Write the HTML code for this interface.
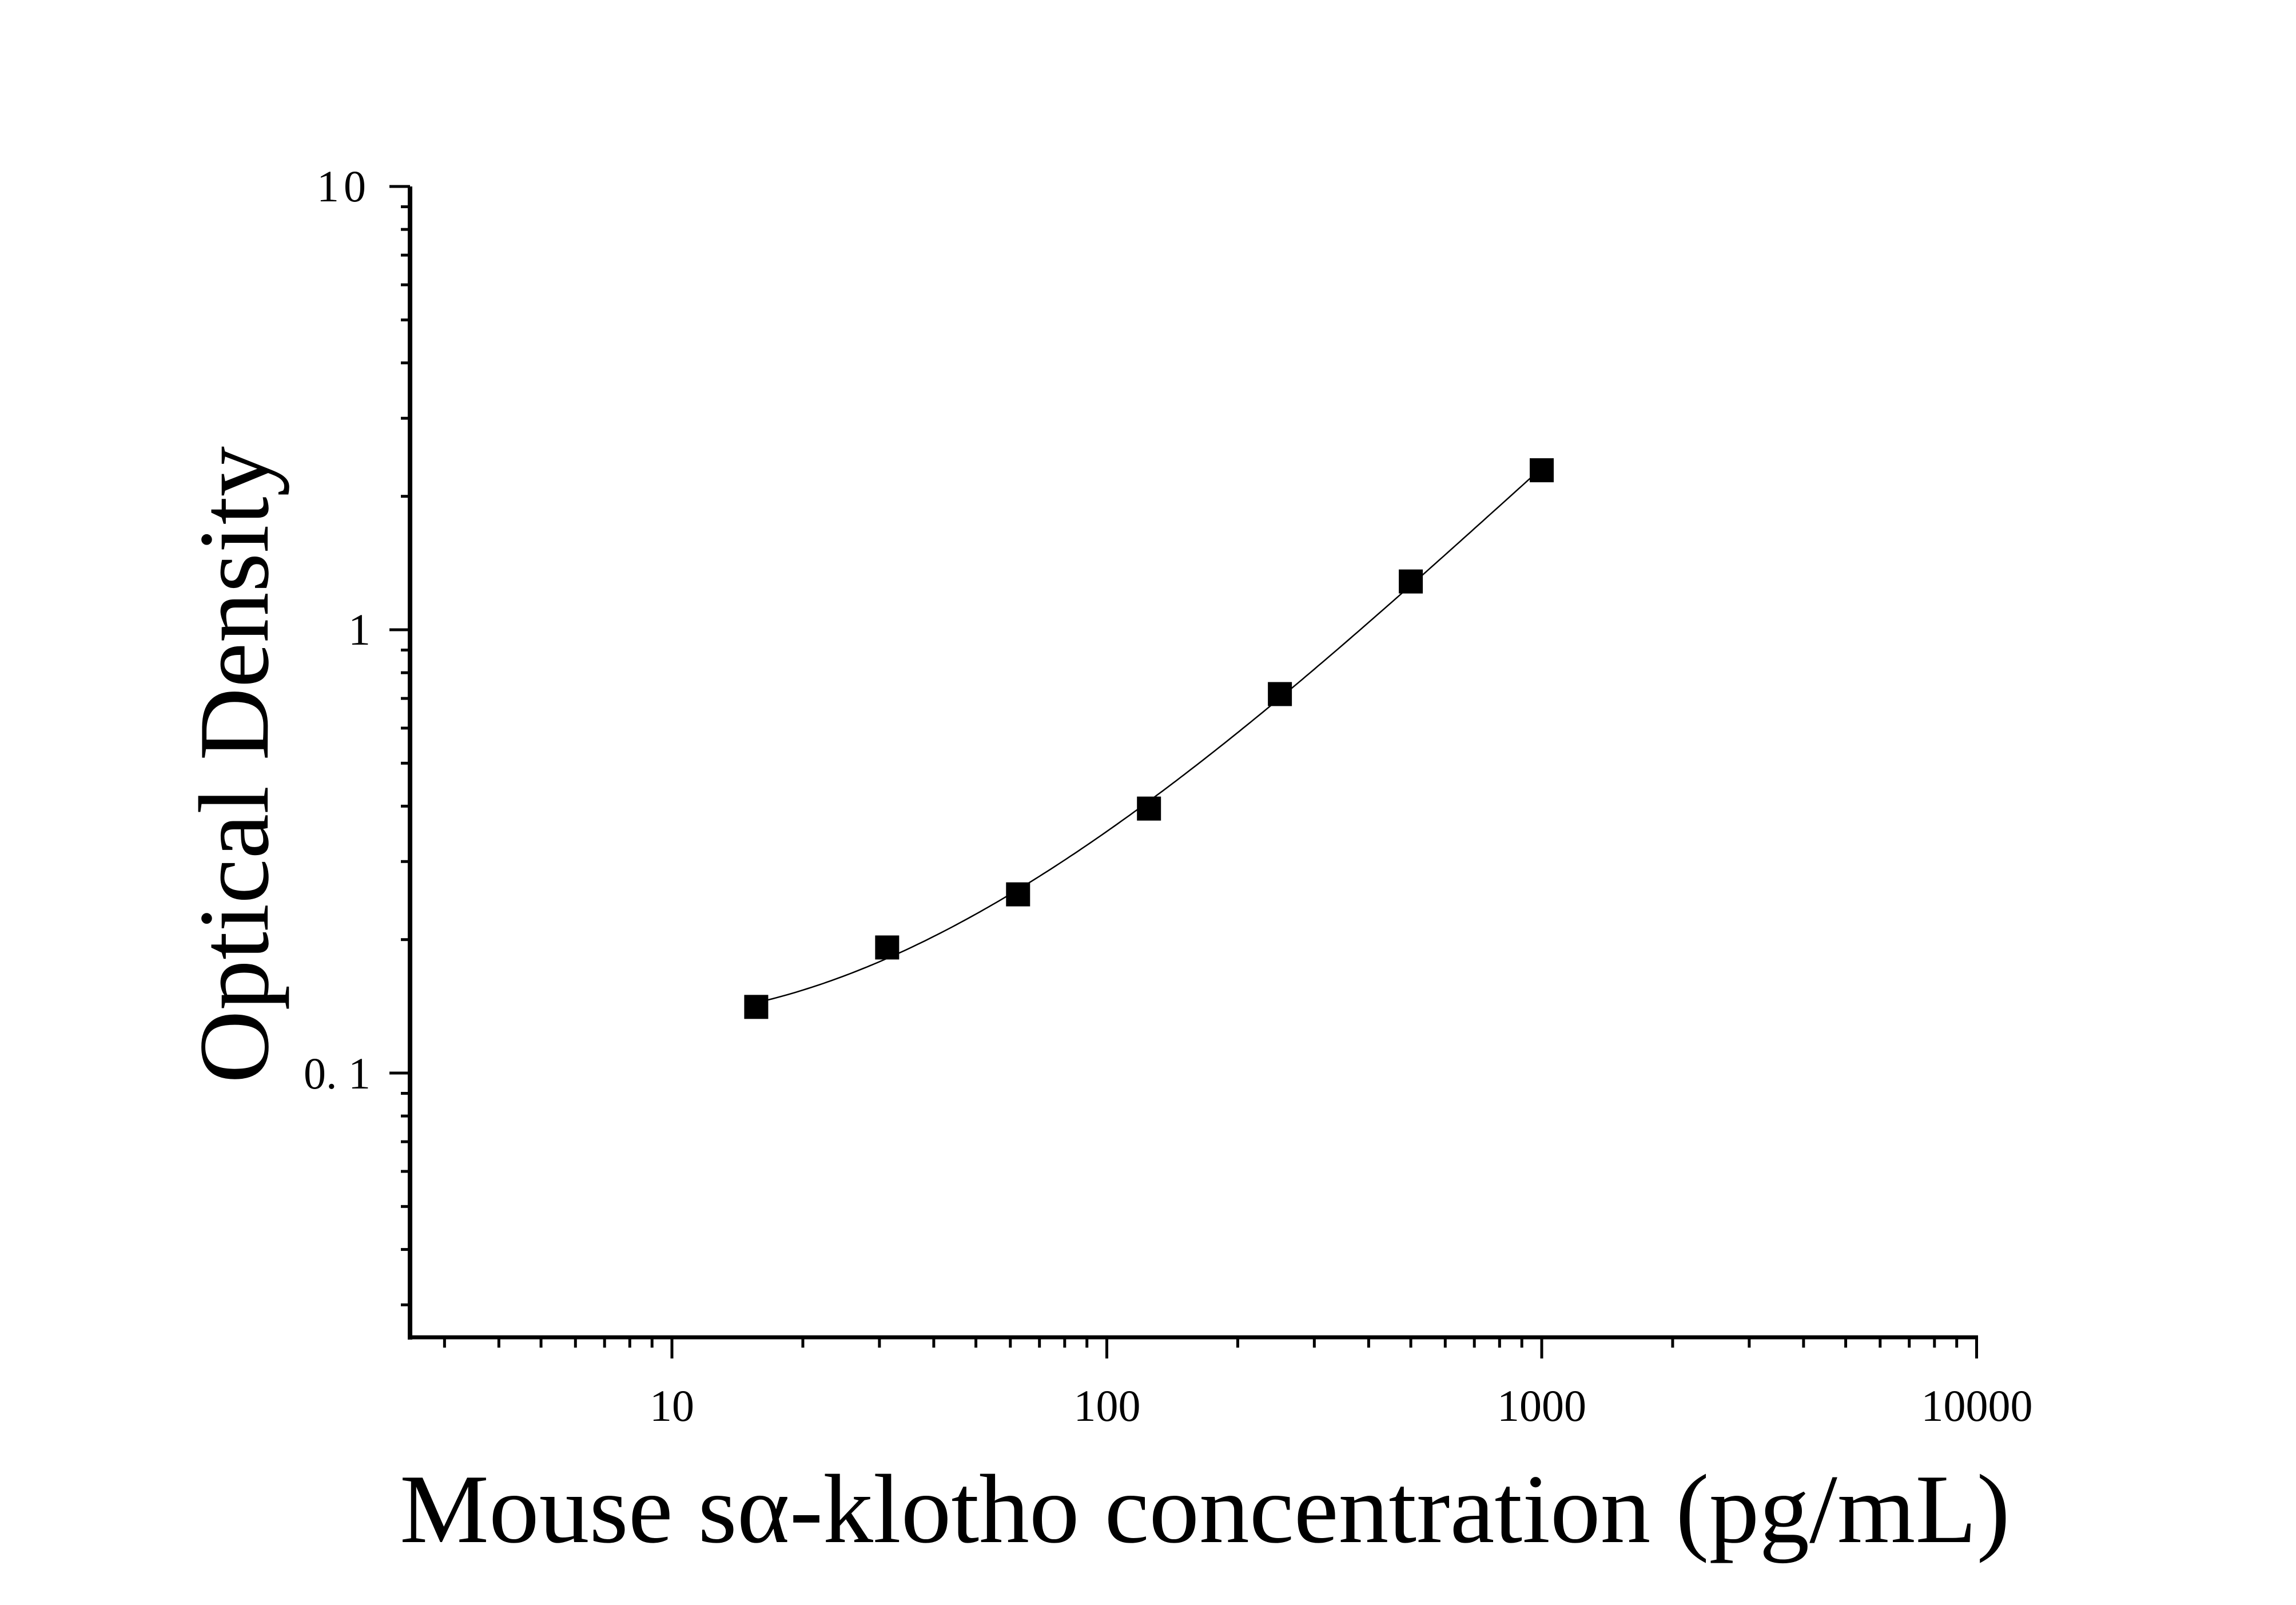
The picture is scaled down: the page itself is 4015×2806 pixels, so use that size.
<!DOCTYPE html>
<html><head><meta charset="utf-8"><style>
html,body{margin:0;padding:0;background:#fff;}
svg{display:block;}
text{font-family:"Liberation Serif",serif;fill:#000;}
</style></head><body>
<svg id="s" width="4015" height="2806" viewBox="0 0 4015 2806" xmlns="http://www.w3.org/2000/svg">
<rect width="4015" height="2806" fill="#fff"/>
<g id="g"></g>
<text x="1175" y="2484" font-size="78" text-anchor="middle">10</text>
<text x="1936" y="2484" font-size="78" text-anchor="middle">100</text>
<text x="2696" y="2484" font-size="78" text-anchor="middle">1000</text>
<text x="3457" y="2484" font-size="78" text-anchor="middle">10000</text>
<text x="648" y="352" font-size="78" text-anchor="end" letter-spacing="8">10</text>
<text x="648" y="1127" font-size="78" text-anchor="end">1</text>
<text x="648" y="1903" font-size="78" text-anchor="end">0. 1</text>
<text x="2107" y="2696" font-size="172" text-anchor="middle" textLength="2816" lengthAdjust="spacingAndGlyphs">Mouse sα-klotho concentration (pg/mL)</text>
<text transform="translate(468,1337) rotate(-90)" font-size="175" text-anchor="middle" textLength="1114" lengthAdjust="spacingAndGlyphs">Optical Density</text>
</svg>
<script>
var g=document.getElementById('g'),NS='http://www.w3.org/2000/svg';
function X(v){return 1175+(Math.log10(v)-1)*760.5;}
function Y(v){return 1101-Math.log10(v)*775;}
function el(t,a){var e=document.createElementNS(NS,t);for(var k in a)e.setAttribute(k,a[k]);g.appendChild(e);return e;}
var L=717,B=2338,T=326,R=3457;
el('line',{x1:L,y1:T,x2:L,y2:B+4,stroke:'#000','stroke-width':8});
el('line',{x1:L-4,y1:B,x2:R+2,y2:B,stroke:'#000','stroke-width':7});
[10,1,0.1].forEach(function(v){var y=Y(v);el('line',{x1:L-36,y1:y,x2:L,y2:y,stroke:'#000','stroke-width':5});});
[1,0.1,0.01].forEach(function(d){for(var i=2;i<=9;i++){var v=d*i;var y=Y(v);if(y>B-5||y<T)continue;el('line',{x1:L-16,y1:y,x2:L,y2:y,stroke:'#000','stroke-width':5});}});
[10,100,1000,10000].forEach(function(v){var x=X(v);el('line',{x1:x,y1:B,x2:x,y2:B+37,stroke:'#000','stroke-width':5});});
[1,10,100,1000].forEach(function(d){for(var i=2;i<=9;i++){var x=X(d*i);if(x<L+8)continue;el('line',{x1:x,y1:B,x2:x,y2:B+18,stroke:'#000','stroke-width':5});}});
var xs=[15.625,31.25,62.5,125,250,500,1000],ys=[0.141,0.192,0.253,0.395,0.716,1.285,2.29];
// cubic least squares in log-log
var lx=xs.map(Math.log10),ly=ys.map(Math.log10),n=4,A=[],b=[];
for(var i=0;i<n;i++){A.push([]);for(var j=0;j<n;j++){var s=0;lx.forEach(function(x){s+=Math.pow(x,i+j);});A[i].push(s);}var t=0;lx.forEach(function(x,k){t+=Math.pow(x,i)*ly[k];});b.push(t);}
for(var i=0;i<n;i++){for(var k=i+1;k<n;k++){var f=A[k][i]/A[i][i];for(var j=i;j<n;j++)A[k][j]-=f*A[i][j];b[k]-=f*b[i];}}
var c=[0,0,0,0];for(var i=n-1;i>=0;i--){var s=b[i];for(var j=i+1;j<n;j++)s-=A[i][j]*c[j];c[i]=s/A[i][i];}
var d='';for(var k=0;k<=200;k++){var x=lx[0]+(lx[6]-lx[0])*k/200;var y=c[0]+c[1]*x+c[2]*x*x+c[3]*x*x*x;
d+=(k?'L':'M')+X(Math.pow(10,x)).toFixed(1)+','+Y(Math.pow(10,y)).toFixed(1);}
el('path',{d:d,fill:'none',stroke:'#000','stroke-width':2.5});
xs.forEach(function(x,i){el('rect',{x:X(x)-21,y:Y(ys[i])-21,width:42,height:42,fill:'#000'});});
</script>
</body></html>
